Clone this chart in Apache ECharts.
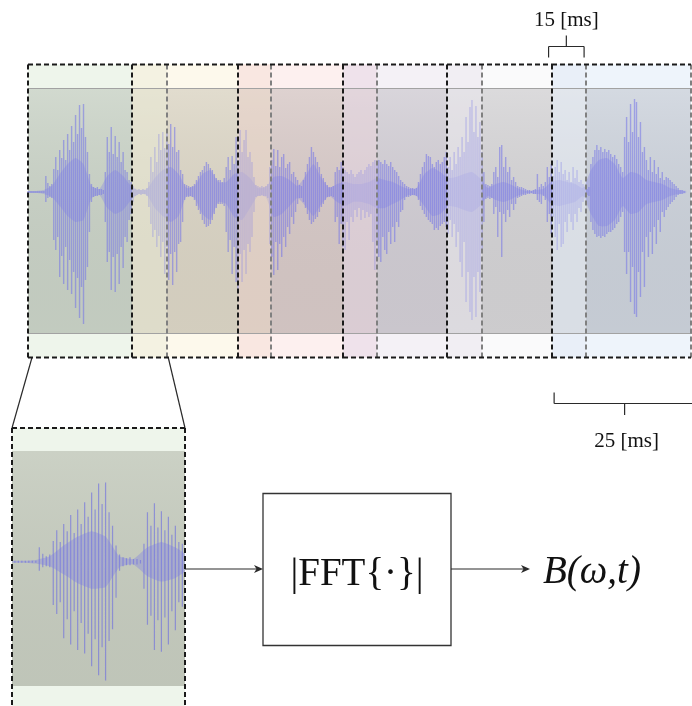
<!DOCTYPE html>
<html><head><meta charset="utf-8">
<script src="https://cdn.jsdelivr.net/npm/echarts@6/dist/echarts.min.js"></script>
<style>html,body{margin:0;padding:0;background:#fff}#c{width:692px;height:706px}</style>
</head><body><div id="c"></div>
<script>
// ---------- data ----------
const SAMPLE_MS = 0.35714;   // waveform sample period (ms)
const waveHi = [
1,1,1,1,1,1,1,1,1,16, 9,6,8,23,35,22,42,34,52,32, 58,42,66,50,77,58,87,64,88,55, 40,18,8,5,4,5,3,3,2,20,
55,40,65,38,56,35,50,30,40,22, 20,12,10,6,3,2,3,2,3,2, 4,10,35,20,45,30,58,42,60,44, 62,48,68,45,65,40,42,22,18,8,
7,6,5,6,8,12,16,20,22,26, 30,28,24,22,18,14,12,12,10,14, 25,35,22,36,28,55,32,62,40,52, 62,35,40,30,15,7,6,5,6,5,
6,8,25,32,43,26,42,25,35,38, 24,28,30,18,20,15,12,7,6,12, 20,28,35,45,40,35,30,25,18,14, 10,7,5,5,6,20,25,22,30,25,
22,20,18,22,18,15,18,20,22,18, 22,25,28,26,30,32,28,32,30,28, 32,28,26,30,25,22,20,16,12,10, 8,6,5,4,4,3,4,10,18,25,
30,38,36,35,28,25,30,32,28,30, 35,40,25,35,22,40,28,45,35,55, 40,75,50,85,92,60,86,55,70,40, 20,8,7,6,8,20,25,15,45,47,
25,35,20,25,12,15,10,6,5,5, 4,3,2,2,1,2,3,18,5,8, 6,10,25,15,28,16,25,32,20,30, 18,22,12,20,10,25,14,22,10,12,
8,5,3,5,28,35,42,47,42,45, 40,43,40,42,38,35,37,33,28,25, 20,55,75,50,88,60,93,90,55,70, 40,45,32,22,35,20,32,18,25,14,
20,12,15,14,12,10,8,6,4,2, 2,1];
const waveLo = [
1,1,1,1,1,1,1,1,1,10, 6,5,6,48,58,45,85,64,92,55, 98,68,102,80,116,86,126,95,132,88, 75,40,10,5,4,4,3,3,2,30,
70,60,98,65,100,62,92,55,76,45, 50,28,22,10,4,3,2,3,2,2, 4,15,32,45,38,55,44,65,50,82, 55,88,62,93,60,80,52,50,30,8,
5,5,4,5,8,14,18,22,28,32, 35,34,32,28,22,16,12,12,12,14, 40,60,48,82,55,90,98,62,90,58, 82,52,60,45,20,5,4,4,3,4,
4,6,52,65,83,50,78,52,65,45, 55,35,42,25,32,20,12,6,6,10, 16,22,28,32,30,27,25,20,15,12, 8,5,5,4,5,30,25,52,32,55,
58,30,48,25,30,18,25,16,28,18, 26,20,25,22,50,78,48,65,70,45, 58,62,40,52,35,50,30,35,20,18, 8,5,5,4,3,3,4,8,14,18,
22,25,28,30,32,38,36,38,34,32, 30,35,42,28,45,32,55,40,70,85, 50,110,80,120,128,85,125,80,100,60, 30,7,6,7,6,22,15,45,20,65,
22,30,18,25,12,18,12,6,5,4, 3,3,2,2,1,2,2,8,10,12, 4,8,30,22,42,25,45,58,32,55, 52,30,40,22,30,38,22,30,16,20,
10,5,3,4,30,38,42,45,44,46, 44,45,42,40,40,38,36,32,30,25, 20,60,82,60,110,75,122,125,80,105, 60,95,45,65,40,62,35,52,28,40,
20,25,18,15,12,10,8,5,3,2, 2,1];
const CORE_MS = 1.42857;     // envelope sample period (ms)
const coreHi = [1,1,2,6,18,28,34,28,6,3, 16,22,16,6,2,3,14,22,25,18, 4,6,18,22,10,10,18,20,14,4, 5,15,16,12,6,16,28,14,4,8,
  10,8,8,10,14,12,10,6,3,4, 18,24,20,14,15,18,20,14,4,8, 10,7,3,1,2,3,10,12,10,8, 4,22,32,34,28,14,20,18,12,10, 8,4,2,1];
const coreLo = [1,1,2,5,14,24,30,28,6,3, 16,22,18,8,2,3,16,24,30,24, 4,6,22,28,10,12,25,28,16,4, 5,25,22,14,6,14,24,12,4,10,
  14,10,10,12,16,16,12,8,3,4, 14,24,22,14,15,18,20,14,4,8, 10,7,3,1,2,3,12,14,12,10, 4,22,34,34,28,14,22,20,12,10, 8,4,2,1];
const winStart = [0, 18.75, 37.86, 56.79, 75.54, 94.46];   // ms
const WIN_MS = 25;
const zoomRange = [0.42, 18.13];      // ms shown in the magnified frame
const overlapBracket = [93.8, 100.2]; // ms
const windowBracket = [94.8, 120.2];  // ms
const labels = {overlap: '15 [ms]', win: '25 [ms]', fft: '|FFT{·}|', out: 'B(ω,t)'};

// ---------- styles ----------
const winTint  = ['#eef5eb', '#fdf9ec', '#fdf0ef', '#f4f1f6', '#fafafb', '#eef4fb'];
const winInner = ['#cbd4c8', '#ddd7c7', '#d9cbc9', '#d3cfd6', '#d6d5d7', '#ced4dd'];
const ovTint   = ['#f4f2e2', '#f9e7e1', '#efe2eb', '#f1eef3', '#e9eff8'];
const ovInner  = ['#e4e2cf', '#e4d3c9', '#e0d2d9', '#e2e0e5', '#dfe4eb'];
const OUT_TOP = 23.5, OUT_BOT = 24.5;

const windows = winStart.map((s, k) => [s, s + WIN_MS, k]);
const overlaps = winStart.slice(1).map((s, k) => [s, winStart[k] + WIN_MS, k]);
const spikeData = waveHi.map((h, i) => [i * SAMPLE_MS, h, -waveLo[i]]);
const coreData = coreHi.map((h, k) => [k * CORE_MS, h, -coreLo[k]]);

function fillRender(tints, inners) {
  return function (params, api) {
    const cs = params.coordSys;
    const x1 = api.coord([api.value(0), 0])[0];
    const x2 = api.coord([api.value(1), 0])[0];
    const k = api.value(2);
    return {type: 'group', children: [
      {type: 'rect', shape: {x: x1, y: cs.y - OUT_TOP, width: x2 - x1, height: cs.height + OUT_TOP + OUT_BOT}, style: {fill: tints[k]}},
      {type: 'rect', shape: {x: x1, y: cs.y, width: x2 - x1, height: cs.height}, style: {fill: inners[k]}}
    ]};
  };
}
function shadeRender(params, api) {
  const cs = params.coordSys;
  return {type: 'group', children: [
    {type: 'rect', shape: {x: cs.x, y: cs.y, width: cs.width, height: cs.height},
     style: {fill: {type: 'linear', x: 0, y: 0, x2: 0, y2: 1, colorStops: [
       {offset: 0, color: 'rgba(255,255,255,0.13)'}, {offset: 1, color: 'rgba(0,0,0,0.045)'}]}}},
    {type: 'line', shape: {x1: cs.x, y1: cs.y + 0.5, x2: cs.x + cs.width, y2: cs.y + 0.5}, style: {stroke: '#a2a2a2', lineWidth: 1}},
    {type: 'line', shape: {x1: cs.x, y1: cs.y + cs.height + 0.5, x2: cs.x + cs.width, y2: cs.y + cs.height + 0.5}, style: {stroke: '#a2a2a2', lineWidth: 1}}
  ]};
}
// all spikes of one series as a single path, drawn from the data through the axes
function spikeRender(color, width) {
  return function (params, api) {
    if (params.dataIndex !== 0) return null;
    let d = '';
    spikeData.forEach(s => {
      const p1 = api.coord([s[0], s[1]]);
      const p2 = api.coord([s[0], s[2]]);
      d += 'M' + p1[0].toFixed(2) + ' ' + p1[1].toFixed(2) + 'L' + p2[0].toFixed(2) + ' ' + p2[1].toFixed(2);
    });
    return {type: 'path', shape: {pathData: d}, style: {fill: 'none', stroke: color, lineWidth: width}};
  };
}
function coreRender(color) {
  return function (params, api) {
    if (params.dataIndex !== 0) return null;
    const pts = [];
    coreData.forEach(d => pts.push(api.coord([d[0], d[1]])));
    for (let k = coreData.length - 1; k >= 0; k--) pts.push(api.coord([coreData[k][0], coreData[k][2]]));
    return {type: 'polygon', shape: {points: pts, smooth: 0.15}, style: {fill: color}};
  };
}
function veilRender(params, api) {
  const cs = params.coordSys;
  const x1 = api.coord([api.value(0), 0])[0];
  const x2 = api.coord([api.value(1), 0])[0];
  return {type: 'rect', shape: {x: x1, y: cs.y + 1, width: x2 - x1, height: cs.height - 1},
          style: {fill: ovInner[api.value(2)], opacity: 0.42}};
}
function dl(x1, y1, x2, y2, c) {
  return {type: 'line', shape: {x1, y1, x2, y2}, style: {stroke: c, lineWidth: 2, lineDash: [5, 3]}};
}
function outlineRender(params, api) {
  const cs = params.coordSys;
  const k = api.value(2);
  const x1 = Math.round(api.coord([api.value(0), 0])[0]);
  const x2 = Math.round(api.coord([api.value(1), 0])[0]);
  const xe = k < winStart.length - 1 ? Math.round(api.coord([winStart[k + 1], 0])[0]) : x2;
  const yT = cs.y - OUT_TOP, yB = cs.y + cs.height + OUT_BOT;
  return {type: 'group', children: [
    dl(x2, yT, x2, yB, '#808080'),
    dl(x1, yT, xe, yT, '#1a1a1a'), dl(x1, yB, xe, yB, '#1a1a1a'),
    dl(x1, yT, x1, yB, '#1a1a1a')
  ]};
}
function panelFill(params, api) {
  const cs = params.coordSys;
  return {type: 'group', children: [
    {type: 'rect', shape: {x: cs.x, y: cs.y - 23, width: cs.width, height: cs.height + 60}, style: {fill: winTint[0]}},
    {type: 'rect', shape: {x: cs.x, y: cs.y, width: cs.width, height: cs.height}, style: {fill: '#c7cdc0'}},
    {type: 'rect', shape: {x: cs.x, y: cs.y, width: cs.width, height: cs.height},
     style: {fill: {type: 'linear', x: 0, y: 0, x2: 0, y2: 1, colorStops: [
       {offset: 0, color: 'rgba(255,255,255,0.08)'}, {offset: 1, color: 'rgba(0,0,0,0.04)'}]}}}
  ]};
}
function panelOutline(params, api) {
  const cs = params.coordSys;
  const yT = cs.y - 23, yB = cs.y + cs.height + 60;
  return {type: 'group', children: [
    dl(cs.x, yT, cs.x + cs.width, yT, '#1a1a1a'),
    dl(cs.x, yT, cs.x, yB, '#1a1a1a'),
    dl(cs.x + cs.width, yT, cs.x + cs.width, yB, '#1a1a1a')
  ]};
}

const chart = echarts.init(document.getElementById('c'));
const g0 = {xAxisIndex: 0, yAxisIndex: 0};
const g1 = {xAxisIndex: 1, yAxisIndex: 1};
const cs = (o, g) => Object.assign({type: 'custom', silent: true}, o, g);
chart.setOption({
  animation: false,
  grid: [
    {left: 28, top: 88, width: 670, height: 245, show: false},
    {left: 12, top: 451, width: 173, height: 235, show: false}
  ],
  xAxis: [
    {type: 'value', gridIndex: 0, min: 0, max: 670 * WIN_MS / 140, show: false},
    {type: 'value', gridIndex: 1, min: zoomRange[0], max: zoomRange[1], show: false}
  ],
  yAxis: [
    {type: 'value', gridIndex: 0, min: -141, max: 104, show: false},
    {type: 'value', gridIndex: 1, min: -138, max: 123, show: false}
  ],
  series: [
    cs({name: 'winFill', data: windows, renderItem: fillRender(winTint, winInner)}, g0),
    cs({name: 'ovFill', data: overlaps, renderItem: fillRender(ovTint, ovInner)}, g0),
    cs({name: 'shade', data: [[0, 0]], renderItem: shadeRender}, g0),
    cs({name: 'spikes', data: spikeData, renderItem: spikeRender('rgba(115,115,232,0.55)', 1.4)}, g0),
    cs({name: 'core', data: coreData, renderItem: coreRender('rgba(125,125,230,0.32)')}, g0),
    cs({name: 'veil', data: overlaps, renderItem: veilRender}, g0),
    cs({name: 'outline', data: windows, renderItem: outlineRender}, g0),
    cs({name: 'panelFill', data: [[0, 0]], renderItem: panelFill}, g1),
    cs({name: 'panelSpikes', data: spikeData, renderItem: spikeRender('rgba(105,105,225,0.6)', 1.2), clip: true}, g1),
    cs({name: 'panelCore', data: coreData, renderItem: coreRender('rgba(120,120,228,0.35)'), clip: true}, g1),
    cs({name: 'panelOutline', data: [[0, 0]], renderItem: panelOutline}, g1)
  ]
});

// ---------- diagram annotations ----------
const px0 = v => chart.convertToPixel({xAxisIndex: 0}, v);
const ink = '#2a2a2a';
function ln(x1, y1, x2, y2, w) { return {type: 'line', shape: {x1, y1, x2, y2}, style: {stroke: ink, lineWidth: w || 1.2}}; }
function arrowHead(x, y) { return {type: 'polygon', shape: {points: [[x, y], [x - 9, y - 4], [x - 6.5, y], [x - 9, y + 4]]}, style: {fill: ink}}; }
function txt(x, y, text, font, align) {
  return {type: 'text', x, y, style: {text, font, fill: '#111', align: align || 'center', verticalAlign: 'middle',
          textAlign: align || 'center', textVerticalAlign: 'middle'}};
}
const oa = px0(overlapBracket[0]), ob = px0(overlapBracket[1]), om = (oa + ob) / 2;
const wa = px0(windowBracket[0]), wb = px0(windowBracket[1]), wm = (wa + wb) / 2;
const w1a = px0(winStart[0]), w1b = px0(winStart[0] + WIN_MS);
const panelL = 12, panelR = 185, panelTop = 428, bandBot = 333 + OUT_BOT;
const boxX = 263, boxY = 493.5, boxW = 188, boxH = 152, arrowY = 569;
chart.setOption({
  graphic: {elements: [
    ln(oa, 46.5, ob, 46.5), ln(oa, 46.5, oa, 57.5), ln(ob, 46.5, ob, 57.5), ln(om, 46.5, om, 35.5),
    txt(om, 20, labels.overlap, '21px "Liberation Serif", serif'),
    ln(wa, 403.5, wb, 403.5), ln(wa, 403.5, wa, 392.5), ln(wm, 403.5, wm, 415),
    txt(wm + 2, 441, labels.win, '21px "Liberation Serif", serif'),
    ln(w1a + 4, bandBot, panelL, panelTop), ln(w1b + 1.5, bandBot, panelR, panelTop),
    {type: 'rect', shape: {x: boxX, y: boxY, width: boxW, height: boxH}, style: {fill: 'none', stroke: '#333', lineWidth: 1.3}},
    txt(boxX + boxW / 2, 575, labels.fft, '39px "Liberation Serif", serif'),
    ln(panelR, arrowY, boxX - 2, arrowY), arrowHead(boxX, arrowY),
    ln(boxX + boxW, arrowY, 528, arrowY), arrowHead(530, arrowY),
    txt(543, 573, labels.out, 'italic 39px "Liberation Serif", serif', 'left')
  ]}
});
</script></body></html>
